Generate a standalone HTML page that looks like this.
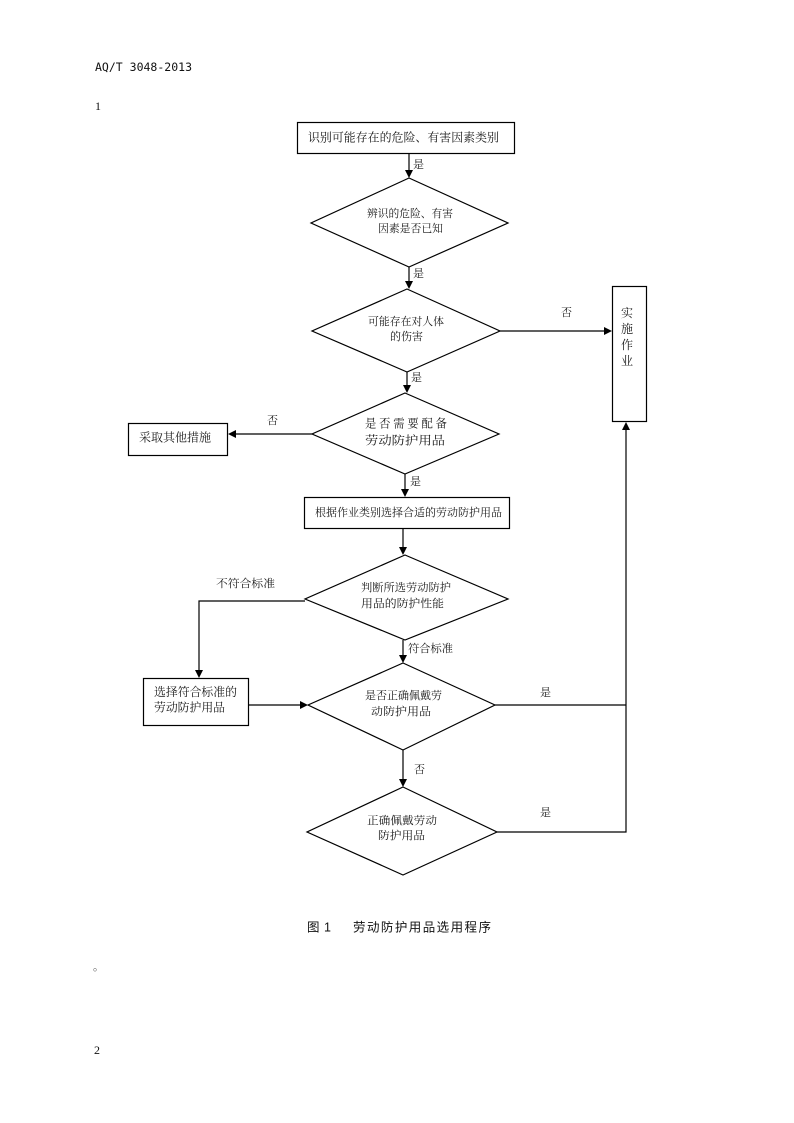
<!DOCTYPE html>
<html><head><meta charset="utf-8"><style>
html,body{margin:0;padding:0;background:#fff;}
body{width:794px;height:1123px;position:relative;overflow:hidden;}
svg{position:absolute;left:0;top:0;}
.t{font-family:"Liberation Serif","Noto Serif CJK SC",serif;font-size:11px;fill:#1a1a1a;}
.s{font-family:"Liberation Sans","Noto Sans CJK SC",sans-serif;fill:#111;}
</style></head><body>
<svg width="794" height="1123" viewBox="0 0 794 1123" xmlns="http://www.w3.org/2000/svg">
<g stroke="#000" stroke-width="1.2" fill="none">
<rect x="297.5" y="122.5" width="217" height="31"/>
<rect x="612.5" y="286.5" width="34" height="135"/>
<rect x="128.5" y="423.5" width="99" height="32"/>
<rect x="304.5" y="497.5" width="205" height="31"/>
<rect x="143.5" y="678.5" width="105" height="47"/>
<polygon points="409,178 508,223 409,267 311,223"/>
<polygon points="407,289 500,331 407,372 312,331"/>
<polygon points="405,393 499,434 405,474 312,434"/>
<polygon points="405,555 508,599 405,640 305,599"/>
<polygon points="403,663 495,705 403,750 308,705"/>
<polygon points="403,787 497,832 403,875 307,832"/>
<line x1="409" y1="153" x2="409" y2="171"/>
<line x1="409" y1="267" x2="409" y2="282"/>
<line x1="407" y1="372" x2="407" y2="386"/>
<line x1="500" y1="331" x2="604" y2="331"/>
<line x1="312" y1="434" x2="236" y2="434"/>
<line x1="405" y1="474" x2="405" y2="490"/>
<line x1="403" y1="528" x2="403" y2="548"/>
<polyline points="305,601 199,601 199,671"/>
<line x1="403" y1="640" x2="403" y2="656"/>
<line x1="248" y1="705" x2="300" y2="705"/>
<polyline points="495,705 626,705"/>
<line x1="403" y1="750" x2="403" y2="780"/>
<polyline points="497,832 626,832 626,430"/>
</g>
<g fill="#000">
<polygon points="405,170 413,170 409,178"/>
<polygon points="405,281 413,281 409,289"/>
<polygon points="403,385 411,385 407,393"/>
<polygon points="604,327 604,335 612,331"/>
<polygon points="236,430 236,438 228,434"/>
<polygon points="401,489 409,489 405,497"/>
<polygon points="399,547 407,547 403,555"/>
<polygon points="195,670 203,670 199,678"/>
<polygon points="399,655 407,655 403,663"/>
<polygon points="300,701 300,709 308,705"/>
<polygon points="399,779 407,779 403,787"/>
<polygon points="622,430 630,430 626,422"/>
</g>
<text x="95" y="71" style="font-family:'DejaVu Sans Mono','Liberation Mono',monospace;font-size:11.5px;fill:#111" textLength="97" lengthAdjust="spacingAndGlyphs">AQ/T 3048-2013</text>
<text x="95" y="110" style="font-family:'Liberation Serif',serif;font-size:12px;fill:#111">1</text>
<text class="t" x="308" y="141.5" style="font-size:12px" textLength="191" lengthAdjust="spacingAndGlyphs">识别可能存在的危险、有害因素类别</text>
<text class="t" x="139" y="441.5" style="font-size:12px" textLength="72" lengthAdjust="spacingAndGlyphs">采取其他措施</text>
<text class="t" x="315" y="516" textLength="187" lengthAdjust="spacingAndGlyphs">根据作业类别选择合适的劳动防护用品</text>
<text class="t" x="154" y="696" style="font-size:12px" textLength="83" lengthAdjust="spacingAndGlyphs">选择符合标准的</text>
<text class="t" x="154" y="711.5" style="font-size:12px" textLength="71" lengthAdjust="spacingAndGlyphs">劳动防护用品</text>
<text class="t" x="621" y="317" style="font-size:12px">实</text>
<text class="t" x="621" y="333" style="font-size:12px">施</text>
<text class="t" x="621" y="349" style="font-size:12px">作</text>
<text class="t" x="621" y="365" style="font-size:12px">业</text>
<text class="t" x="367" y="217" textLength="86" lengthAdjust="spacingAndGlyphs">辨识的危险、有害</text>
<text class="t" x="378" y="232" textLength="65" lengthAdjust="spacingAndGlyphs">因素是否已知</text>
<text class="t" x="368" y="325" textLength="76" lengthAdjust="spacingAndGlyphs">可能存在对人体</text>
<text class="t" x="390" y="340" textLength="33" lengthAdjust="spacingAndGlyphs">的伤害</text>
<text class="t" x="365" y="427.5" style="font-size:12px" textLength="82" lengthAdjust="spacingAndGlyphs">是 否 需 要 配 备</text>
<text class="t" x="365" y="444.5" style="font-size:12px" textLength="80" lengthAdjust="spacingAndGlyphs">劳动防护用品</text>
<text class="t" x="361" y="591" textLength="90" lengthAdjust="spacingAndGlyphs">判断所选劳动防护</text>
<text class="t" x="361" y="607" textLength="83" lengthAdjust="spacingAndGlyphs">用品的防护性能</text>
<text class="t" x="365" y="699" textLength="77" lengthAdjust="spacingAndGlyphs">是否正确佩戴劳</text>
<text class="t" x="371" y="715" textLength="60" lengthAdjust="spacingAndGlyphs">动防护用品</text>
<text class="t" x="367" y="824" textLength="70" lengthAdjust="spacingAndGlyphs">正确佩戴劳动</text>
<text class="t" x="378" y="839" textLength="47" lengthAdjust="spacingAndGlyphs">防护用品</text>
<text class="t" x="413" y="168">是</text>
<text class="t" x="413" y="277">是</text>
<text class="t" x="411" y="381">是</text>
<text class="t" x="410" y="485">是</text>
<text class="t" x="561" y="316">否</text>
<text class="t" x="267" y="424">否</text>
<text class="t" x="216" y="587" textLength="59" lengthAdjust="spacingAndGlyphs">不符合标准</text>
<text class="t" x="408" y="652" textLength="45" lengthAdjust="spacingAndGlyphs">符合标准</text>
<text class="t" x="540" y="696">是</text>
<text class="t" x="414" y="773">否</text>
<text class="t" x="540" y="816">是</text>
<text class="s" x="307" y="931.5" style="font-size:12.5px">图</text>
<text class="s" x="324" y="931.5" style="font-size:12.5px">1</text>
<text class="s" x="353" y="931.5" style="font-size:12.5px" textLength="138" lengthAdjust="spacing">劳动防护用品选用程序</text>
<text x="93" y="970" style="font-family:'Noto Serif CJK SC',serif;font-size:11px;fill:#333">。</text>
<text x="94" y="1054" style="font-family:'Liberation Serif',serif;font-size:12px;fill:#111">2</text>
</svg>
</body></html>
